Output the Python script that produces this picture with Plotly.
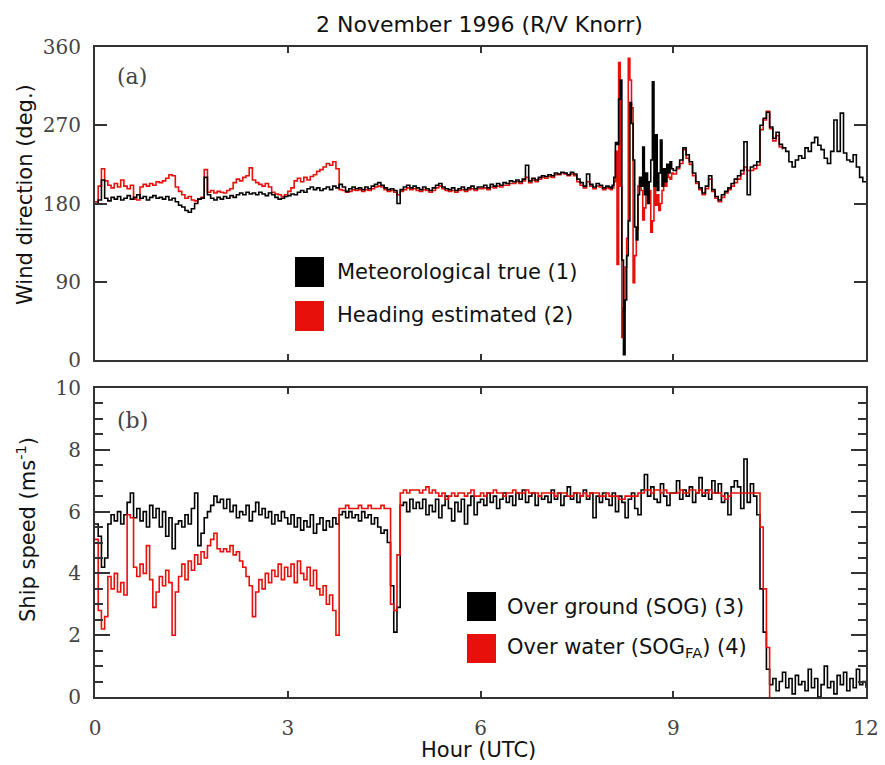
import numpy as np
import plotly.graph_objects as go

# ── Panel (a): wind direction (deg), sampled every 0.05 h, 0.025 h in 8-9 h ──
WDIR_MET_0_8 = [
    180, 184, 207, 186, 183, 187, 185, 188, 184, 186, 189, 185, 187, 190, 186, 188, 184, 187, 189, 186,
    187, 185, 188, 184, 186, 182, 178, 176, 172, 170, 174, 180, 185, 186, 210, 190, 186, 184, 187, 185,
    188, 186, 189, 187, 190, 192, 190, 193, 191, 192, 190, 193, 191, 189, 192, 190, 187, 185, 186, 188,
    189, 191, 190, 193, 195, 193, 197, 199, 196, 198, 195, 197, 199, 196, 200, 198, 202, 199, 194, 197,
    199, 197, 198, 196, 199, 197, 200, 202, 204, 201, 198, 196, 197, 195, 180, 196, 199, 201, 198, 200,
    198, 196, 199, 197, 195, 198, 201, 203, 199, 197, 196, 198, 195, 197, 199, 196, 198, 200, 197, 199,
    199, 201, 198, 202, 200, 203, 201, 204, 203, 206, 205, 207, 205, 208, 224, 206, 209, 207, 210, 212,
    211, 213, 212, 215, 214, 216, 215, 213, 216, 214, 208, 204, 200, 214, 202, 199, 203, 201, 198, 200,
]
WDIR_MET_8_9 = [
    199, 198, 201, 210, 250, 248, 300, 322, 115, 6, 69, 120, 160, 296, 272, 230, 153, 138, 190, 210,
    200, 245, 190, 215, 180, 205, 230, 320, 200, 259, 195, 215, 253, 200, 220, 205, 225, 215, 228, 220,
]
WDIR_MET_9_12 = [
    218, 222, 230, 244, 236, 228, 215, 205, 198, 192, 200, 212, 196, 188, 184, 190, 194, 198, 203, 208,
    212, 218, 251, 190, 222, 224, 228, 270, 278, 285, 268, 255, 262, 248, 244, 240, 228, 222, 230, 235,
    232, 244, 240, 250, 256, 247, 242, 232, 226, 240, 276, 240, 284, 238, 230, 228, 236, 222, 210, 205, 206,
]
WDIR_HDG_0_8 = [
    182, 200, 220, 206, 201, 198, 203, 199, 207, 200, 197, 201, 185, 184, 199, 202, 200, 203, 201, 205,
    204, 206, 209, 213, 212, 199, 194, 190, 186, 188, 184, 183, 185, 187, 219, 193, 195, 192, 194, 193,
    192, 195, 197, 204, 208, 206, 210, 212, 221, 207, 204, 202, 200, 203, 199, 193, 191, 190, 188, 190,
    194, 198, 206, 209, 205, 210, 207, 211, 213, 217, 219, 222, 226, 224, 228, 220, 196, 195, 193, 194,
    196, 195, 196, 194, 196, 195, 197, 199, 200, 199, 196, 194, 195, 193, 190, 194, 196, 198, 196, 197,
    195, 194, 196, 195, 193, 195, 198, 200, 197, 195, 194, 195, 193, 195, 196, 194, 196, 197, 195, 197,
    197, 198, 196, 199, 198, 200, 199, 201, 201, 203, 203, 205, 203, 206, 210, 204, 207, 205, 208, 210,
    209, 211, 210, 213, 213, 215, 214, 212, 214, 212, 205, 201, 198, 205, 200, 197, 200, 199, 196, 198,
]
WDIR_HDG_8_9 = [
    197, 196, 198, 205, 240, 110, 342, 200, 26, 60, 107, 140, 347, 322, 290, 89, 120, 150, 200, 205,
    195, 161, 175, 200, 190, 195, 147, 160, 210, 178, 190, 172, 180, 195, 205, 200, 215, 210, 208, 215,
]
WDIR_HDG_9_12 = [
    214, 220, 226, 242, 232, 225, 212, 203, 196, 190, 197, 208, 194, 186, 182, 187, 192, 196, 200, 204,
    208, 214, 222, 218, 218, 220, 224, 265, 276, 286, 266, 252, 258, 245, 242,
]

# ── Panel (b): ship speed (m/s), sampled every 0.05 h ─────────────────────────
SOG = [
    5.6, 5.2, 4.2, 4.5, 5.6, 5.9, 5.7, 6.0, 5.6, 5.9, 6.3, 6.6, 5.8, 6.1, 5.7, 6.0, 5.5, 6.2, 5.8, 6.1,
    5.5, 6.0, 5.2, 5.8, 4.8, 5.6, 5.7, 5.5, 5.9, 5.6, 6.1, 6.6, 4.9, 5.3, 5.8, 6.0, 6.2, 6.5, 6.3, 6.4,
    6.1, 6.4, 6.0, 6.2, 5.8, 6.0, 5.9, 6.2, 5.7, 6.0, 6.3, 5.9, 6.1, 5.8, 6.0, 5.6, 5.9, 5.7, 6.0, 5.8,
    5.6, 5.9, 5.5, 5.8, 5.4, 5.7, 5.5, 5.9, 5.3, 5.6, 5.8, 5.4, 5.7, 5.5, 5.8, 5.6, 5.9, 6.0, 5.8, 6.0,
    5.8, 5.9, 5.7, 6.0, 5.8, 5.9, 5.6, 5.8, 5.5, 5.3, 5.4, 5.0, 3.6, 2.1, 2.9, 6.2, 6.3, 6.0, 6.4, 6.1,
    6.3, 6.1, 6.4, 5.9, 6.2, 6.0, 6.4, 5.8, 6.2, 6.5, 6.1, 5.7, 6.3, 6.0, 6.4, 5.6, 6.2, 6.5, 5.9, 6.3,
    6.4, 6.2, 6.6, 6.3, 6.5, 6.1, 6.4, 6.6, 6.3, 6.5, 6.2, 6.6, 6.4, 6.7, 6.3, 6.5, 6.6, 6.2, 6.5, 6.4,
    6.5, 6.3, 6.7, 6.4, 6.6, 6.2, 6.5, 6.8, 6.4, 6.6, 6.3, 6.5, 6.7, 6.4, 6.6, 5.8, 6.5, 6.3, 6.6, 6.4,
    6.2, 6.6, 6.0, 6.5, 6.3, 5.8, 6.4, 6.6, 6.1, 5.9, 6.7, 7.2, 6.5, 6.8, 6.4, 6.3, 6.9, 6.5, 6.2, 6.6,
    6.6, 7.0, 6.4, 6.7, 6.5, 6.8, 6.3, 6.6, 7.1, 6.5, 6.7, 6.4, 7.0, 6.6, 6.9, 6.3, 6.6, 5.9, 6.8, 7.0,
    6.8, 6.1, 7.7, 6.3, 6.9, 6.5, 5.9, 3.5, 2.1, 0.9, 0.4, 0.6, 0.2, 0.5, 0.8, 0.3, 0.6, 0.1, 0.7, 0.4,
    0.5, 0.2, 0.9, 0.3, 0.6, 0.0, 0.4, 1.0, 0.3, 0.5, 0.1, 0.7, 0.4, 0.8, 0.2, 0.6, 0.3, 0.9, 0.4, 0.5, 0.3,
]
SOG_FA = [
    5.1, 2.8, 2.2, 2.6, 3.9, 3.5, 4.0, 3.4, 3.7, 3.3, 5.9, 5.8, 4.2, 3.9, 4.3, 4.0, 4.9, 3.8, 2.9, 3.4,
    3.9, 3.6, 4.1, 3.7, 2.0, 3.4, 3.9, 4.3, 3.8, 4.4, 4.1, 4.6, 4.3, 4.7, 4.5, 4.9, 5.1, 5.3, 4.8, 4.7,
    4.8, 4.7, 4.9, 4.6, 4.7, 4.4, 4.2, 3.9, 3.6, 2.6, 3.4, 3.8, 3.5, 4.0, 3.7, 4.1, 3.9, 4.3, 3.8, 4.2,
    3.9, 4.3, 3.7, 4.4, 4.0, 3.8, 4.2, 3.6, 4.1, 3.5, 3.3, 3.6, 3.0, 3.3, 2.8, 2.0, 6.1, 6.1, 6.2, 6.1,
    6.1, 6.1, 6.2, 6.1, 6.1, 6.2, 6.1, 6.1, 6.1, 6.2, 6.1, 6.1, 3.0, 2.8, 4.6, 6.6, 6.7, 6.6, 6.7, 6.7,
    6.7, 6.6, 6.7, 6.8, 6.6, 6.7, 6.6, 6.5, 6.6, 6.4, 6.5, 6.6, 6.5, 6.6, 6.6, 6.5, 6.6, 6.7, 6.5, 6.5,
    6.6, 6.5, 6.6, 6.6, 6.7, 6.6, 6.6, 6.5, 6.6, 6.6, 6.7, 6.6, 6.6, 6.6, 6.7, 6.6, 6.6, 6.6, 6.5, 6.6,
    6.6, 6.6, 6.6, 6.5, 6.6, 6.6, 6.6, 6.5, 6.5, 6.6, 6.6, 6.5, 6.6, 6.5, 6.6, 6.6, 6.6, 6.5, 6.5, 6.6,
    6.5, 6.5, 6.5, 6.4, 6.4, 6.5, 6.5, 6.5, 6.5, 6.6, 6.6, 6.7, 6.7, 6.6, 6.7, 6.7, 6.6, 6.7, 6.6, 6.6,
    6.6, 6.6, 6.7, 6.6, 6.6, 6.7, 6.7, 6.6, 6.7, 6.6, 6.6, 6.7, 6.6, 6.6, 6.6, 6.5, 6.4, 6.5, 6.6, 6.6,
    6.6, 6.6, 6.6, 6.6, 6.6, 6.6, 6.6, 5.5, 3.5, 1.6, 0.0,
]

HOUR_TICKS = [0, 3, 6, 9, 12]
WDIR_TICKS = [0, 90, 180, 270, 360]
SPEED_TICKS = [0, 2, 4, 6, 8, 10]

# ── time grids ────────────────────────────────────────────────────────────────
t_0_8 = np.round(np.arange(len(WDIR_MET_0_8)) * 0.05, 3)
t_8_9 = np.round(8.0 + np.arange(len(WDIR_MET_8_9)) * 0.025, 3)
t_9_12 = np.round(9.0 + np.arange(len(WDIR_MET_9_12)) * 0.05, 3)
t_met = np.concatenate([t_0_8, t_8_9, t_9_12])
t_hdg = np.concatenate([t_0_8, t_8_9, t_9_12[:len(WDIR_HDG_9_12)]])
t_b = np.round(np.arange(len(SOG)) * 0.05, 3)

BLACK = "#000000"
RED = "#e8100a"
AXIS = "#333333"
SERIF = "DejaVu Serif"
SANS = "DejaVu Sans"

fig = go.Figure()

# panel (a): red below, black on top
fig.add_trace(go.Scatter(x=t_hdg, y=WDIR_HDG_0_8 + WDIR_HDG_8_9 + WDIR_HDG_9_12,
                         mode="lines", line=dict(color=RED, width=1.6, shape="hv"),
                         xaxis="x2", yaxis="y2", showlegend=False))
fig.add_trace(go.Scatter(x=t_met, y=WDIR_MET_0_8 + WDIR_MET_8_9 + WDIR_MET_9_12,
                         mode="lines", line=dict(color=BLACK, width=1.6, shape="hv"),
                         xaxis="x2", yaxis="y2", showlegend=False))
# panel (b): black below, red on top
fig.add_trace(go.Scatter(x=t_b, y=SOG, mode="lines",
                         line=dict(color=BLACK, width=1.6, shape="hv"), showlegend=False))
fig.add_trace(go.Scatter(x=t_b[:len(SOG_FA)], y=SOG_FA, mode="lines",
                         line=dict(color=RED, width=1.6, shape="hv"), showlegend=False))

W, H = 885, 765
def px(x): return x / W
def py(y): return 1 - y / H

tickfont = dict(family=SERIF, size=20, color="#444444")
common_x = dict(range=[0, 12], tickvals=HOUR_TICKS, ticks="inside", ticklen=6, tickwidth=1.5,
                tickcolor=AXIS, showline=True, linecolor=AXIS, linewidth=2, mirror="ticks",
                showgrid=False, zeroline=False, automargin=False, domain=[px(95), px(866)])

fig.update_layout(
    width=W, height=H,
    margin=dict(l=0, r=0, t=0, b=0, autoexpand=False),
    plot_bgcolor="white", paper_bgcolor="white",
    xaxis=dict(**common_x, anchor="y", tickfont=tickfont, ticklabelstandoff=12),
    xaxis2=dict(**common_x, anchor="y2", showticklabels=False, matches="x"),
    yaxis=dict(domain=[py(697), py(388)], range=[0, 10], tickvals=SPEED_TICKS,
               ticks="inside", ticklen=15, tickwidth=1.5, tickcolor=AXIS,
               minor=dict(dtick=0.5, ticks="inside", ticklen=8, tickwidth=1.5, tickcolor=AXIS),
               showline=True, linecolor=AXIS, linewidth=2, mirror="ticks", automargin=False,
               showgrid=False, zeroline=False, tickfont=tickfont, ticklabelstandoff=8),
    yaxis2=dict(domain=[py(360), py(47)], range=[0, 360], tickvals=WDIR_TICKS,
                ticks="inside", ticklen=12, tickwidth=1.5, tickcolor=AXIS,
                showline=True, linecolor=AXIS, linewidth=2, mirror="ticks", automargin=False,
                showgrid=False, zeroline=False, tickfont=tickfont, ticklabelstandoff=8),
)

# legend squares
def square(x0, y0, x1, y1, color):
    fig.add_shape(type="rect", xref="paper", yref="paper",
                  x0=px(x0), x1=px(x1), y0=py(y1), y1=py(y0),
                  fillcolor=color, line=dict(color=color, width=0))

square(295, 257, 324, 287, BLACK)
square(295, 301, 324, 331, RED)
square(467, 592, 496, 621, BLACK)
square(467, 634, 496, 663, RED)

sans = dict(family=SANS, size=21, color="#111111")
def label(x, y, text, font, xanchor="left", angle=0):
    fig.add_annotation(x=px(x), y=py(y), xref="paper", yref="paper", text=text,
                       showarrow=False, xanchor=xanchor, yanchor="middle",
                       textangle=angle, font=font)

label(335, 272, "Meteorological true (1)", sans)
label(335, 315, "Heading estimated (2)", sans)
label(505, 607, "Over ground (SOG) (3)", sans)
label(505, 648, "Over water (SOG<sub>FA</sub>) (4)", sans)

serif_lbl = dict(family=SERIF, size=22, color="#444444")
label(132, 77, "(a)", serif_lbl, xanchor="center")
label(132, 420, "(b)", serif_lbl, xanchor="center")

label(479, 24, "2 November 1996 (R/V Knorr)", dict(sans, size=22), xanchor="center")
label(478, 750, "Hour (UTC)", sans, xanchor="center")
label(25, 195, "Wind direction (deg.)", sans, xanchor="center", angle=-90)
label(26, 530, "Ship speed (ms<sup>-1</sup>)", sans, xanchor="center", angle=-90)

# drop the default page margin so the figure sits at the window's corner
fig.write_html("out.html", config={"displayModeBar": False},
               post_script="document.body.style.margin='0';")
